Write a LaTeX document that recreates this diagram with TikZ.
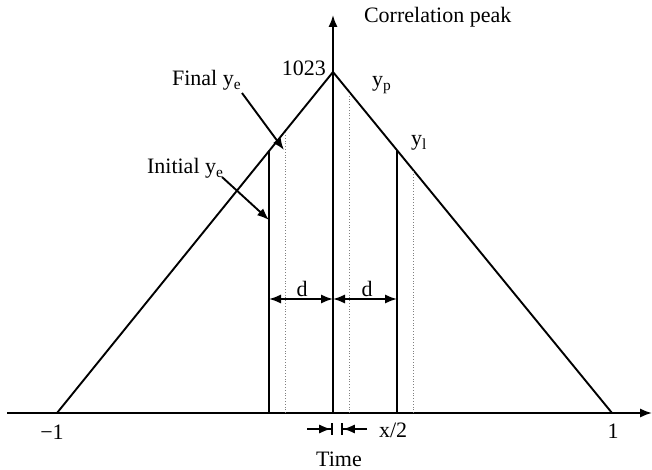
\documentclass[tikz,border=0pt]{standalone}
\usepackage{fontspec}
\setmainfont{Liberation Serif}
\usetikzlibrary{arrows.meta}

\begin{document}
\begin{tikzpicture}[x=0.5pt,y=-0.5pt,>={Latex[length=6pt,width=4.6pt]},
    font=\fontsize{11}{13}\selectfont,
    solid line/.style={line width=0.95pt},
    shift line/.style={densely dotted,line width=0.4pt,gray}]
  \useasboundingbox (0,0) rectangle (652,470);
  % axes
  \coordinate (O) at (333,413);
  \coordinate (xs) at (7,413);
  \coordinate (xe) at (652,413);
  \coordinate (ytop) at (333,15);
  \draw[->,solid line] (xs) -- (xe);
  \draw[->,solid line] (O) -- (ytop);
  \node[anchor=west] (ylab) at (357,17) {Correlation peak};
  \node (tlab) at (339,459) {Time};
  \node (mone) at (52,432) {−1};
  \node (one) at (613,431) {1};
  % correlation triangle
  \coordinate (L) at (57,413);
  \coordinate (P) at (333,72);
  \coordinate (R) at (612,413);
  \draw[solid line] (L) -- (P) -- (R);
  \node[anchor=east] (peak) at (333,68) {1023};
  \node[anchor=base west] (yp) at (365,87) {y\textsubscript{p}};
  \node[anchor=base west] (yl) at (404,146) {y\textsubscript{l}};
  % early / late samples
  \coordinate (e0) at (269,413);
  \coordinate (e1) at (269,151);
  \coordinate (l0) at (397,413);
  \coordinate (l1) at (397,150);
  \draw[solid line] (e0) -- (e1);
  \draw[solid line] (l0) -- (l1);
  % shifted samples
  \draw[shift line] (285.5,413) -- (285.5,131);
  \draw[shift line] (349.5,413) -- (349.5,92);
  \draw[shift line] (413,413) -- (413,170);
  % labels with pointers
  \node[anchor=base west] (fin) at (165,86) {Final y\textsubscript{e}};
  \node[anchor=base west] (ini) at (140,174) {Initial y\textsubscript{e}};
  \coordinate (finA) at (242,93);
  \coordinate (finB) at (284,150);
  \coordinate (iniA) at (222,177);
  \coordinate (iniB) at (269,220);
  \draw[->,solid line] (finA) -- (finB);
  \draw[->,solid line] (iniA) -- (iniB);
  % spacing d
  \coordinate (dl) at (269,299);
  \coordinate (dm) at (333,299);
  \coordinate (dr) at (397,299);
  \draw[<->,solid line] (dl) -- (dm);
  \draw[<->,solid line] (dm) -- (dr);
  \node (d1) at (302,289) {d};
  \node (d2) at (367,289) {d};
  % shift x/2
  \coordinate (xa) at (307,429);
  \coordinate (xb) at (333,429);
  \coordinate (xc) at (367,429);
  \coordinate (xd) at (341,429);
  \draw[-{Latex[length=6pt,width=4.6pt]Bar[width=6pt]},solid line] (xa) -- (xb);
  \draw[-{Latex[length=6pt,width=4.6pt]Bar[width=6pt]},solid line] (xc) -- (xd);
  \node[anchor=west] (half) at (372,430) {x/2};
\end{tikzpicture}
\end{document}
